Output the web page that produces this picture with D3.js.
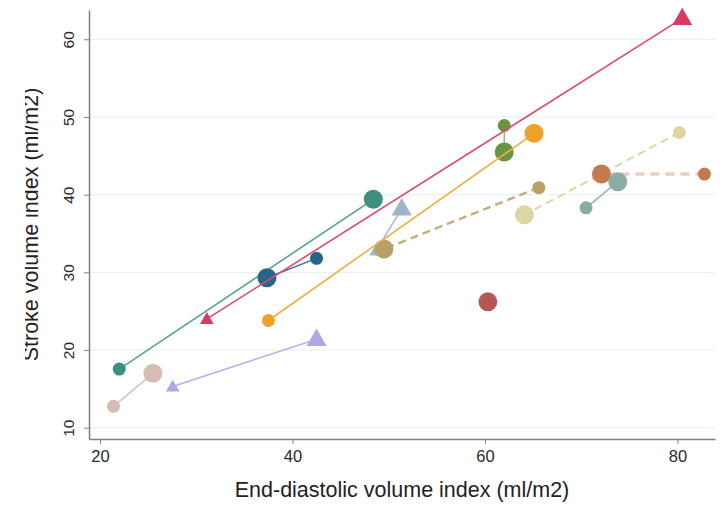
<!DOCTYPE html>
<html>
<head>
<meta charset="utf-8">
<script src="https://cdn.jsdelivr.net/npm/d3@7"></script>
<style>
  html, body { margin: 0; padding: 0; background: #fff; }
  svg { display: block; font-family: "Liberation Sans", Arial, Helvetica, sans-serif; }
</style>
</head>
<body>
<svg id="chart" width="720" height="505"></svg>
<script>
// Paired measurements per subject: first visit (small marker) and second visit (large marker).
// null means the visit was not measured.
const edviFirst  = [21.4, 27.55, 22.0, 42.5, 48.7, 65.6, 62.0, 31.1, 37.5, 80.2, 82.8, 70.5, null];
const sviFirst   = [12.75, 15.3, 17.55, 31.8, 32.8, 40.9, 48.9, 24.0, 23.8, 48.0, 42.65, 38.3, null];
const edviSecond = [25.5, 42.5, 48.4, 37.35, 51.35, 49.5, 62.0, 80.5, 65.1, 64.1, 72.1, 73.8, 60.3];
const sviSecond  = [17.0, 21.4, 39.4, 29.3, 38.2, 33.0, 45.5, 62.7, 47.9, 37.4, 42.65, 41.66, 26.2];

const xTicks = [20, 40, 60, 80];
const yTicks = [10, 20, 30, 40, 50, 60];
const xTitle = "End-diastolic volume index (ml/m2)";
const yTitle = "Stroke volume index (ml/m2)";

// Per-subject styling
const markerColor = ["#d6bcb4", "#aaa9e6", "#3d8f80", "#27648a", "#9fb3c9", "#b7a168",
                     "#6a9444", "#d93a5e", "#f0a228", "#ddd6a4", "#c47a4f", "#8aaca5", "#b55757"];
const lineColor   = ["#d9c3bb", "#b3b2ea", "#5aa394", "#3c7397", "#a9bccf", "#c2ae7a",
                     "#7ea25d", "#de4a6b", "#f2ad3f", "#ddd6a4", "#ebcfc4", "#93b2ab", "#b55757"];
const markerShape = ["circle", "triangle", "circle", "circle", "triangle", "circle",
                     "circle", "triangle", "circle", "circle", "circle", "circle", "circle"];
const lineDash    = [null, null, null, null, null, "8,5", null, null, null, "8,5", "9,6", null, null];
const lineWidth   = [1.6, 1.6, 1.6, 1.4, 1.6, 2.4, 1.2, 1.6, 1.6, 2.0, 3.4, 1.6, 1.6];

const svg = d3.select("#chart");
const plotLeft = 89, plotRight = 715, plotTop = 10, plotBottom = 439;

const x = d3.scaleLinear().domain([18.857, 83.9]).range([plotLeft, plotRight]);
const y = d3.scaleLinear().domain([8.545, 63.77]).range([plotBottom, plotTop]);

// Horizontal grid
svg.append("g")
  .selectAll("line")
  .data(yTicks)
  .join("line")
  .attr("x1", plotLeft).attr("x2", plotRight)
  .attr("y1", d => y(d)).attr("y2", d => y(d))
  .attr("stroke", "#e5efed")
  .attr("stroke-width", 1);

// Axes
const axisColor = "#808080";
const xAxis = svg.append("g")
  .attr("transform", `translate(0,${plotBottom})`)
  .call(d3.axisBottom(x).tickValues(xTicks).tickSize(5).tickPadding(5).tickSizeOuter(0));
const yAxis = svg.append("g")
  .attr("transform", `translate(${plotLeft},0)`)
  .call(d3.axisLeft(y).tickValues(yTicks).tickSize(5).tickPadding(5).tickSizeOuter(0));

[xAxis, yAxis].forEach(g => {
  g.select(".domain").attr("stroke", axisColor).attr("stroke-width", 1.5);
  g.selectAll(".tick line").attr("stroke", axisColor).attr("stroke-width", 1);
  g.selectAll(".tick text").attr("fill", "#2a2a2a").attr("font-size", 16.5)
    .attr("font-family", "'Liberation Sans', Arial, sans-serif");
});
xAxis.selectAll(".tick text").attr("dy", "0.8em");
yAxis.selectAll(".tick text")
  .attr("text-anchor", "middle")
  .attr("dy", 0)
  .attr("transform", function () {
    const tx = +d3.select(this).attr("x");
    return `translate(${tx - 5},0) rotate(-90)`;
  })
  .attr("x", 0)
  .attr("font-size", 15.5);

// Axis titles
svg.append("text")
  .attr("x", (plotLeft + plotRight) / 2)
  .attr("y", 497)
  .attr("text-anchor", "middle")
  .attr("font-size", 21.5)
  .attr("fill", "#222")
  .text(xTitle);

// The y title is trimmed at the left margin of the figure
svg.append("defs").append("clipPath").attr("id", "ytitle-clip")
  .append("rect").attr("x", 25).attr("y", 0).attr("width", 60).attr("height", 505);

svg.append("g")
  .attr("clip-path", "url(#ytitle-clip)")
  .append("text")
  .attr("transform", `translate(38,${(plotTop + plotBottom) / 2}) rotate(-90)`)
  .attr("text-anchor", "middle")
  .attr("font-size", 21.5)
  .attr("fill", "#222")
  .text(yTitle);

// Subjects, drawn in an order that controls overlap
const drawOrder = [0, 1, 2, 3, 4, 5, 6, 7, 8, 9, 10, 11, 12];
const smallR = 6.5, bigR = 9.5;
const triSide = r => r * 2.1; // triangle side relative to circle radius

function marker(g, cx, cy, r, shape, color) {
  if (shape === "triangle") {
    const side = triSide(r);
    const area = side * side * Math.sqrt(3) / 4;
    g.append("path")
      .attr("d", d3.symbol(d3.symbolTriangle, area)())
      .attr("transform", `translate(${cx},${cy + 1})`)
      .attr("fill", color);
  } else {
    g.append("circle").attr("cx", cx).attr("cy", cy).attr("r", r).attr("fill", color);
  }
}

const plot = svg.append("g");
drawOrder.forEach(i => {
  const g = plot.append("g");
  const hasFirst = edviFirst[i] !== null && sviFirst[i] !== null;
  if (hasFirst) {
    g.append("line")
      .attr("x1", x(edviFirst[i])).attr("y1", y(sviFirst[i]))
      .attr("x2", x(edviSecond[i])).attr("y2", y(sviSecond[i]))
      .attr("stroke", lineColor[i])
      .attr("stroke-width", lineWidth[i])
      .attr("stroke-dasharray", lineDash[i]);
    marker(g, x(edviFirst[i]), y(sviFirst[i]), smallR, markerShape[i], markerColor[i]);
  }
  marker(g, x(edviSecond[i]), y(sviSecond[i]), bigR, markerShape[i], markerColor[i]);
});
</script>
</body>
</html>
